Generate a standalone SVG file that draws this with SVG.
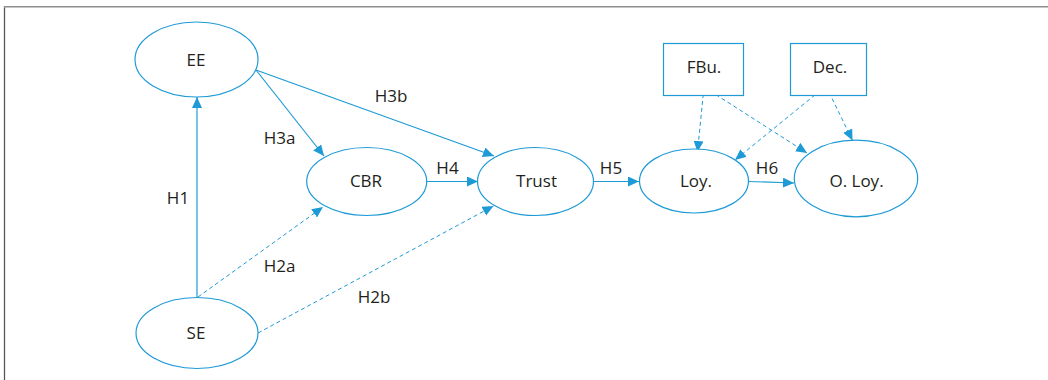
<svg xmlns="http://www.w3.org/2000/svg" width="1048" height="380" viewBox="0 0 1048 380">
<style>
.n{fill:#fff;stroke:#1e9ad6;stroke-width:1.2}
.t{font-family:"Open Sans","Noto Sans",sans-serif;font-size:17px;fill:#231f20;text-anchor:middle}
.c{fill:none;stroke:#1e9ad6;stroke-width:1.2;marker-end:url(#ah)}
.d{stroke-dasharray:4 3;stroke-width:1}
</style>
<defs>
<marker id="ah" markerUnits="userSpaceOnUse" markerWidth="12" markerHeight="11" refX="11" refY="5" orient="auto">
<path d="M0,0 L11,5 L0,10 z" fill="#1e9ad6"/>
</marker>
</defs>
<rect width="1048" height="380" fill="#fff"/>
<path d="M4.5,380 V6.8 H1048" fill="none" stroke="#8e8e8e" stroke-width="1.4"/>
<path d="M4.5,380 V8" fill="none" stroke="#555" stroke-width="1"/>
<g id="connectors">
<path class="c" d="M197,297 V97"/>
<path class="c" d="M256,70 L324,156"/>
<path class="c" d="M256,70 L494,156"/>
<path class="c" d="M427,181.5 H478"/>
<path class="c" d="M593,181.5 H639"/>
<path class="c" d="M748,181.5 L794,183"/>
<path class="c d" d="M704,87 L697.5,152"/>
<path class="c d" d="M704,87 L807,153"/>
<path class="c d" d="M826,86 L735,160"/>
<path class="c d" d="M826,86 L852.5,140.5"/>
<path class="c d" d="M198,297 L323,207"/>
<path class="c d" d="M258,333 L493.5,206"/>
<g class="t">
<text x="178" y="204">H1</text>
<text x="279.5" y="143.5">H3a</text>
<text x="391" y="101.5">H3b</text>
<text x="447.5" y="173.5">H4</text>
<text x="611" y="173.5">H5</text>
<text x="767" y="174">H6</text>
<text x="279.5" y="271.5">H2a</text>
<text x="374" y="302.5">H2b</text>
</g>
</g>
<g id="EE"><ellipse class="n" cx="196.5" cy="59.5" rx="61.5" ry="37.5"/><text class="t" x="196" y="65.5">EE</text></g>
<g id="SE"><ellipse class="n" cx="197" cy="333" rx="61" ry="35.5"/><text class="t" x="196" y="338.5">SE</text></g>
<g id="CBR"><ellipse class="n" cx="366.7" cy="181.5" rx="60" ry="34"/><text class="t" x="366" y="187">CBR</text></g>
<g id="Trust"><ellipse class="n" cx="535.5" cy="181.5" rx="58" ry="34"/><text class="t" x="536.5" y="187">Trust</text></g>
<g id="Loy"><ellipse class="n" cx="694" cy="181" rx="54.5" ry="32"/><text class="t" x="696" y="187">Loy.</text></g>
<g id="OLoy"><ellipse class="n" cx="856" cy="178.5" rx="61.7" ry="38.3"/><text class="t" x="856.5" y="187">O. Loy.</text></g>
<g id="FBu"><rect class="n" x="663.5" y="43.5" width="80" height="52"/><text class="t" x="704" y="72.5">FBu.</text></g>
<g id="Dec"><rect class="n" x="790.5" y="43.5" width="76" height="52"/><text class="t" x="830" y="72.5">Dec.</text></g>
</svg>
